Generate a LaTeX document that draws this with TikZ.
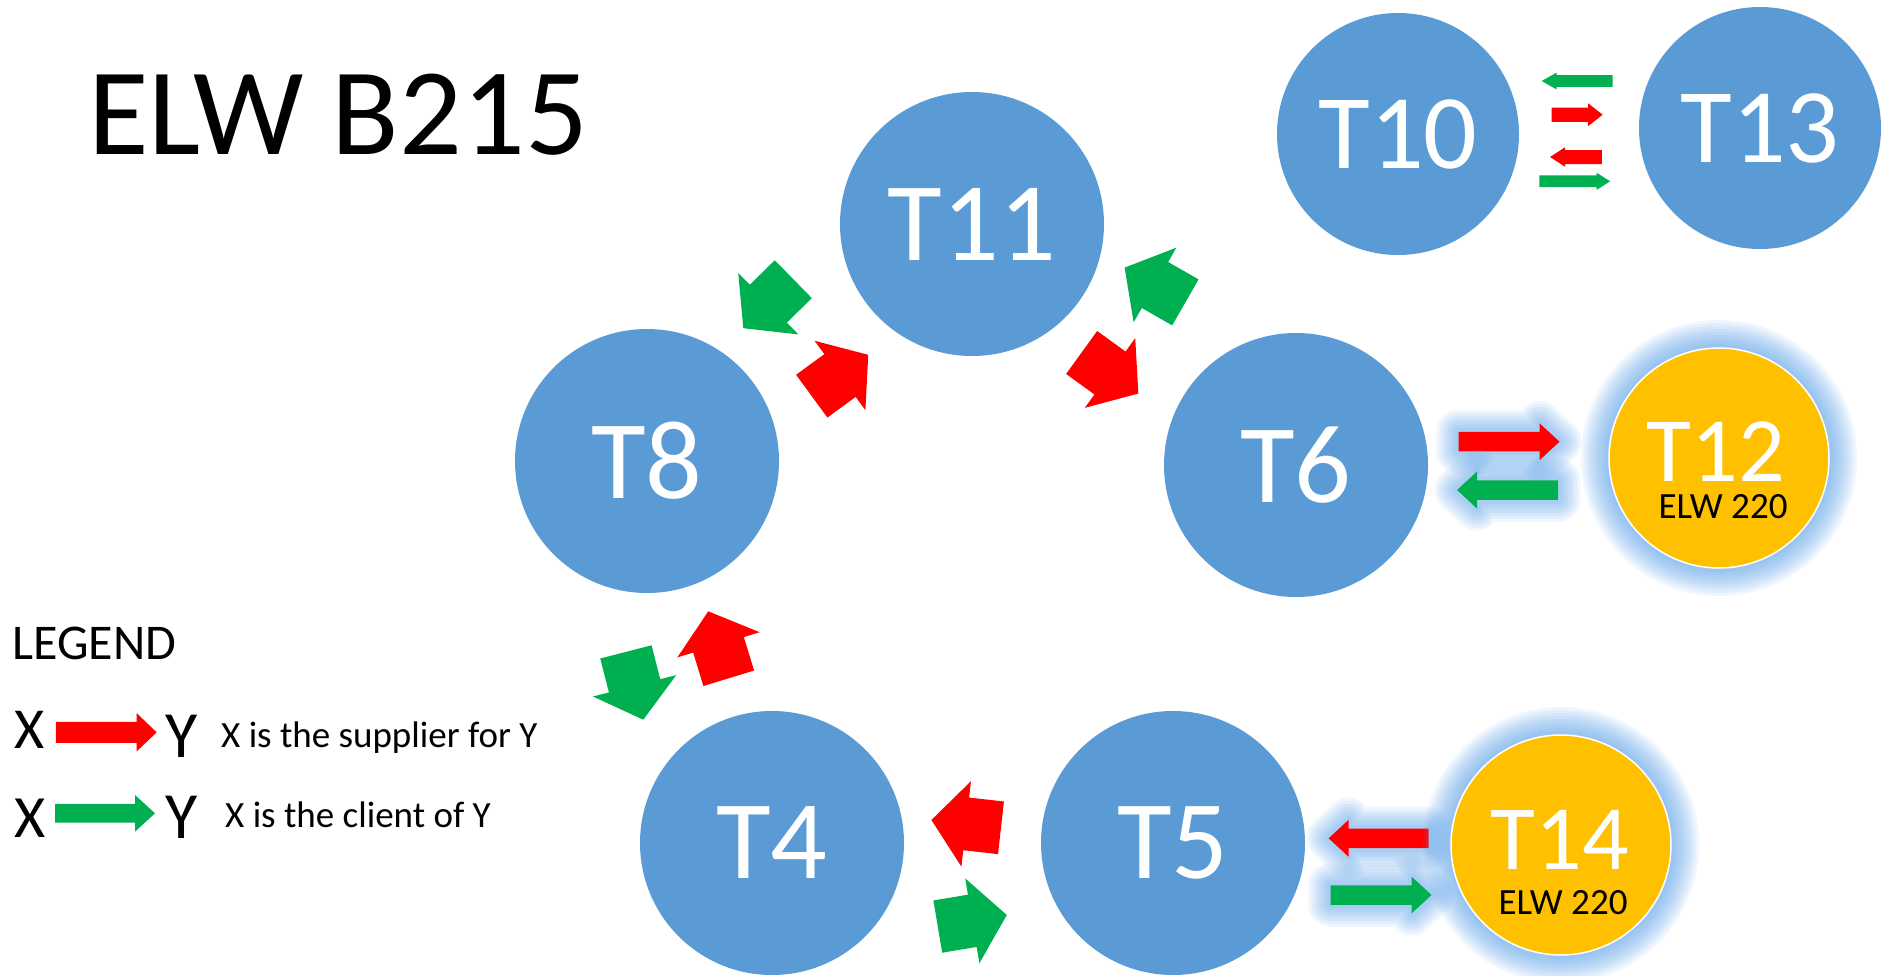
\documentclass[tikz,border=0pt]{standalone}
\usepackage{fontspec}
\setmainfont{Carlito}
\usetikzlibrary{calc}
\definecolor{tblue}{RGB}{91,155,213}
\definecolor{tgold}{RGB}{255,192,0}
\definecolor{tred}{RGB}{255,0,0}
\definecolor{tgreen}{RGB}{0,176,80}
\definecolor{glowc}{RGB}{80,155,235}
% #1 x, #2 y, #3 angle, #4 style, #5 length, #6 head breadth, #7 body breadth, #8 head length
\newcommand{\barrow}[8]{%
  \path[#4, shift={(#1,#2)}, rotate=#3] (-#5/2,-#7/2) -- (#5/2-#8,-#7/2) -- (#5/2-#8,-#6/2) -- (#5/2,0)
    -- (#5/2-#8,#6/2) -- (#5/2-#8,#7/2) -- (-#5/2,#7/2) -- cycle;}
\tikzset{
  bluec/.style={circle, fill=tblue, inner sep=0pt, minimum size=264pt, text=white,
    font=\fontsize{112}{112}\selectfont},
  bluesm/.style={circle, fill=tblue, inner sep=0pt, minimum size=242pt, text=white,
    font=\fontsize{106}{106}\selectfont},
  gl/.style={preaction={draw=glowc, line width=#1, draw opacity=0.085, line join=round}},
  goldglow/.style={gl=56pt, gl=50pt, gl=44pt, gl=38pt, gl=32pt, gl=26pt, gl=20pt, gl=14pt, gl=8pt},
  goldc/.style={circle, fill=tgold, draw=white, line width=1.5pt, inner sep=0pt,
    minimum size=220pt, goldglow},
  goldlab/.style={inner sep=0pt, text=white, font=\fontsize{92}{92}\selectfont},
  elwlab/.style={inner sep=0pt, text=black, font=\fontsize{37}{37}\selectfont},
  arrglow/.style={gl=44pt, gl=38pt, gl=32pt, gl=26pt, gl=20pt, gl=14pt, gl=8pt},
  redar/.style={fill=tred},
  greenar/.style={fill=tgreen},
  redglow/.style={arrglow, fill=tred},
  greenglow/.style={arrglow, fill=tgreen},
  txt/.style={inner sep=0pt, text=black}
}
\begin{document}
\begin{tikzpicture}[x=1pt,y=-1pt]
\useasboundingbox (0,0) rectangle (1888,975);
\fill[white] (0,0) rectangle (1888,975);

% title
\node[txt, anchor=base west, font=\fontsize{124}{124}\selectfont] (title) at (88,154) {ELW B215};

% circles
\node[bluec] (T11) at (972,224) {T11};
\node[bluec] (T8) at (647,461) {T8};
\node[bluec] (T6) at (1296,465) {T6};
\node[bluec] (T4) at (772,843) {T4};
\node[bluec] (T5) at (1173,843) {T5};
\node[bluesm] (T10) at (1398,134) {T10};
\node[bluesm] (T13) at (1760,128) {T13};

% medium arrows with glow (drawn before the gold circles)
\barrow{1509}{441.7}{0}{redglow}{101}{37}{19.5}{20}
\barrow{1507.5}{490}{180}{greenglow}{101}{37}{19.5}{20}
\barrow{1378.6}{838.3}{180}{redglow}{100}{37}{19.5}{20}
\barrow{1381}{895}{0}{greenglow}{101}{37}{19.5}{20}

\node[goldc] (T12) at (1719,458) {};
\node[goldc] (T14) at (1561,845) {};
\node[goldlab, anchor=base] (T12l) at (1716,481) {T12};
\node[elwlab, anchor=base] (T12e) at (1723,518) {ELW 220};
\node[goldlab, anchor=base] (T14l) at (1560,869) {T14};
\node[elwlab, anchor=base] (T14e) at (1563,914) {ELW 220};

% big block arrows
\barrow{768.3}{303.7}{224.4}{greenar}{70}{86}{53}{35}
\barrow{840}{375.5}{36.2}{redar}{70}{86}{53}{35}
\barrow{1110}{373}{-35.9}{redar}{70}{86}{53}{35}
\barrow{1155}{285}{150.2}{greenar}{70}{86}{53}{35}
\barrow{718.5}{644.8}{107}{redar}{70}{86}{53}{35}
\barrow{634.6}{685.8}{-75.6}{greenar}{70}{86}{53}{35}
\barrow{966.2}{823.9}{173.6}{redar}{70}{86}{53}{35}
\barrow{972.3}{920.8}{9.5}{greenar}{70}{86}{53}{35}

% small arrows T10 - T13
\barrow{1577.2}{81}{180}{greenar}{71}{17}{11.7}{15}
\barrow{1577.2}{114.7}{0}{redar}{51}{22.7}{14.3}{14.5}
\barrow{1575.9}{157}{180}{redar}{51.7}{19.5}{14}{15}
\barrow{1574.7}{181.3}{0}{greenar}{70.7}{17.3}{11.7}{13.5}

% legend
\node[txt, anchor=base west, font=\fontsize{50}{50}\selectfont] (leg) at (12,659) {LEGEND};
\node[txt, anchor=base west, font=\fontsize{58}{58}\selectfont] (lx1) at (14,748.5) {X};
\node[txt, anchor=base west, font=\fontsize{66}{66}\selectfont] (ly1) at (165,757) {Y};
\node[txt, anchor=base west, font=\fontsize{37}{37}\selectfont] (lt1) at (221,747) {X is the supplier for Y};
\node[txt, anchor=base west, font=\fontsize{60}{60}\selectfont] (lx2) at (14,837) {X};
\node[txt, anchor=base west, font=\fontsize{66}{66}\selectfont] (ly2) at (165,838.5) {Y};
\node[txt, anchor=base west, font=\fontsize{37}{37}\selectfont] (lt2) at (225,827) {X is the client of Y};
\barrow{106.3}{732.3}{0}{redar}{100.7}{38.3}{21}{20}
\barrow{105}{813.3}{0}{greenar}{100}{36.7}{18.7}{20}
\end{tikzpicture}
\end{document}
